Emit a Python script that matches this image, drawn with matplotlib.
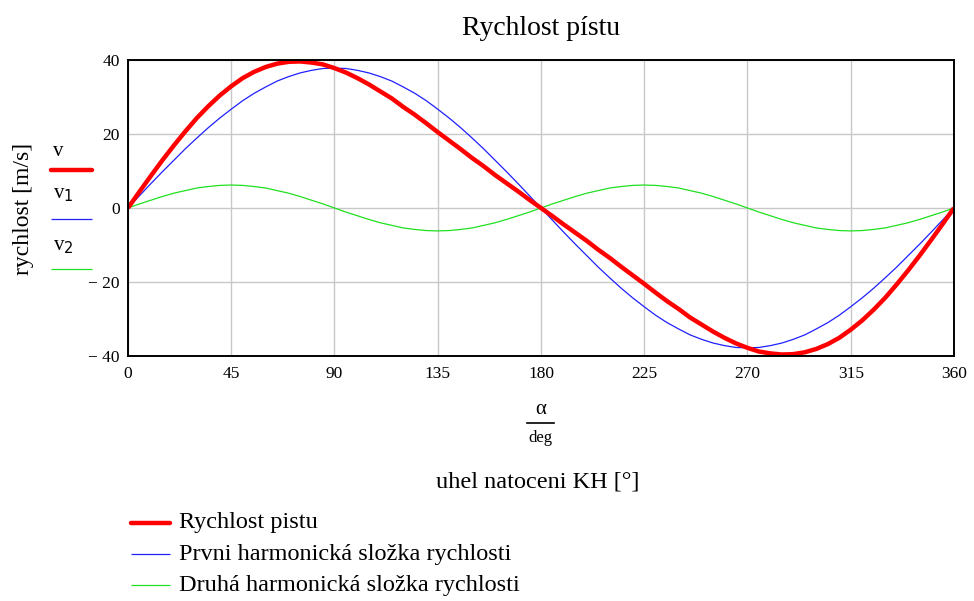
import matplotlib
matplotlib.use("Agg")
import matplotlib.pyplot as plt
from matplotlib.lines import Line2D

plt.rcParams["font.family"] = ["Liberation Serif", "DejaVu Serif"]

# values, every 5 degrees
alpha = list(range(0, 361, 5))
v = [0, 4.4, 8.7, 12.9, 16.9, 20.7, 24.3, 27.5, 30.4, 32.9, 35.1, 36.8, 38.1, 39.0, 39.5, 39.6, 39.3, 38.8, 37.8,
     36.6, 35.1, 33.4, 31.5, 29.6, 27.3, 25.2, 22.9, 20.5, 18.2, 15.9, 13.5, 11.3, 8.9, 6.7, 4.5, 2.2, 0,
     -2.2, -4.5, -6.7, -8.9, -11.3, -13.5, -15.9, -18.2, -20.5, -22.9, -25.2, -27.3, -29.6, -31.5, -33.4, -35.1, -36.6, -37.8,
     -38.8, -39.3, -39.6, -39.5, -39.0, -38.1, -36.8, -35.1, -32.9, -30.4, -27.5, -24.3, -20.7, -16.9, -12.9, -8.7, -4.4, 0]
v1 = [0, 3.3, 6.6, 9.8, 12.9, 16.0, 18.9, 21.7, 24.3, 26.7, 29.0, 31.0, 32.7, 34.3, 35.5, 36.5, 37.2, 37.7, 37.8,
      37.7, 37.2, 36.5, 35.5, 34.3, 32.7, 31.0, 29.0, 26.7, 24.3, 21.7, 18.9, 16.0, 12.9, 9.8, 6.6, 3.3, 0,
      -3.3, -6.6, -9.8, -12.9, -16.0, -18.9, -21.7, -24.3, -26.7, -29.0, -31.0, -32.7, -34.3, -35.5, -36.5, -37.2, -37.7, -37.8,
      -37.7, -37.2, -36.5, -35.5, -34.3, -32.7, -31.0, -29.0, -26.7, -24.3, -21.7, -18.9, -16.0, -12.9, -9.8, -6.6, -3.3, 0]
v2 = [0, 1.1, 2.1, 3.1, 4.0, 4.7, 5.4, 5.8, 6.1, 6.2, 6.1, 5.8, 5.4, 4.7, 4.0, 3.1, 2.1, 1.1, 0,
      -1.1, -2.1, -3.1, -4.0, -4.7, -5.4, -5.8, -6.1, -6.2, -6.1, -5.8, -5.4, -4.7, -4.0, -3.1, -2.1, -1.1, 0,
      1.1, 2.1, 3.1, 4.0, 4.7, 5.4, 5.8, 6.1, 6.2, 6.1, 5.8, 5.4, 4.7, 4.0, 3.1, 2.1, 1.1, 0,
      -1.1, -2.1, -3.1, -4.0, -4.7, -5.4, -5.8, -6.1, -6.2, -6.1, -5.8, -5.4, -4.7, -4.0, -3.1, -2.1, -1.1, 0]

x_ticks = [0, 45, 90, 135, 180, 225, 270, 315, 360]
y_ticks = [-40, -20, 0, 20, 40]
y_labels = ["\u2212 40", "\u2212 20", "0", "20", "40"]

series = [
    ("v", v, "#ff0000", 3.2, "Rychlost pistu"),
    ("v$_1$", v1, "#2020ff", 0.9, "Prvni harmonická složka rychlosti"),
    ("v$_2$", v2, "#20e020", 0.9, "Druhá harmonická složka rychlosti"),
]

fig = plt.figure(figsize=(9.74, 6.01), dpi=100)
ax = fig.add_axes([0.1314, 0.4077, 0.848, 0.4925])

for name, vals, col, lw, lab in series[::-1]:
    ax.plot(alpha, vals, color=col, lw=lw, solid_capstyle="butt")

ax.set_xlim(0, 360)
ax.set_ylim(-40, 40)
ax.set_xticks(x_ticks)
ax.set_yticks(y_ticks)
ax.set_yticklabels(y_labels)
ax.tick_params(length=0, labelsize=12.5)
ax.tick_params(axis="x", pad=7)
ax.tick_params(axis="y", pad=6)
ax.grid(True, color="#c8c8c8", lw=1)
ax.set_axisbelow(True)
for s in ax.spines.values():
    s.set_linewidth(1.4)

fig.text(0.555, 0.953, "Rychlost pístu", ha="center", va="center", fontsize=20)

# y label with line keys like Mathcad
fig.text(0.024, 0.652, "rychlost [m/s]", rotation=90, ha="center", va="center", fontsize=17)
ky = [(0.748, 0.717), (0.677, 0.636), (0.590, 0.553)]
for (name, vals, col, lw, lab), (ty, ly) in zip(series, ky):
    fig.text(0.0545, ty, name, ha="left", va="center", fontsize=15)
    fig.add_artist(Line2D([0.052, 0.094], [ly, ly], color=col, lw=lw,
                          solid_capstyle="round" if lw > 2 else "butt"))

# x label as fraction
fig.text(0.555, 0.318, "α", ha="center", va="center", fontsize=15)
fig.add_artist(Line2D([0.541, 0.569], [0.296, 0.296], color="black", lw=1.2))
fig.text(0.555, 0.272, "deg", ha="center", va="center", fontsize=12)
fig.text(0.552, 0.198, "uhel natoceni KH [°]", ha="center", va="center", fontsize=17.5)

# bottom legend
for i, (name, vals, col, lw, lab) in enumerate(series):
    yy = 0.130 - i * 0.052
    fig.add_artist(Line2D([0.134, 0.175], [yy, yy], color=col, lw=lw,
                          solid_capstyle="round" if lw > 2 else "butt"))
    fig.text(0.184, yy, lab, ha="left", va="center", fontsize=17.5)

fig.savefig("out.png", dpi=100)
